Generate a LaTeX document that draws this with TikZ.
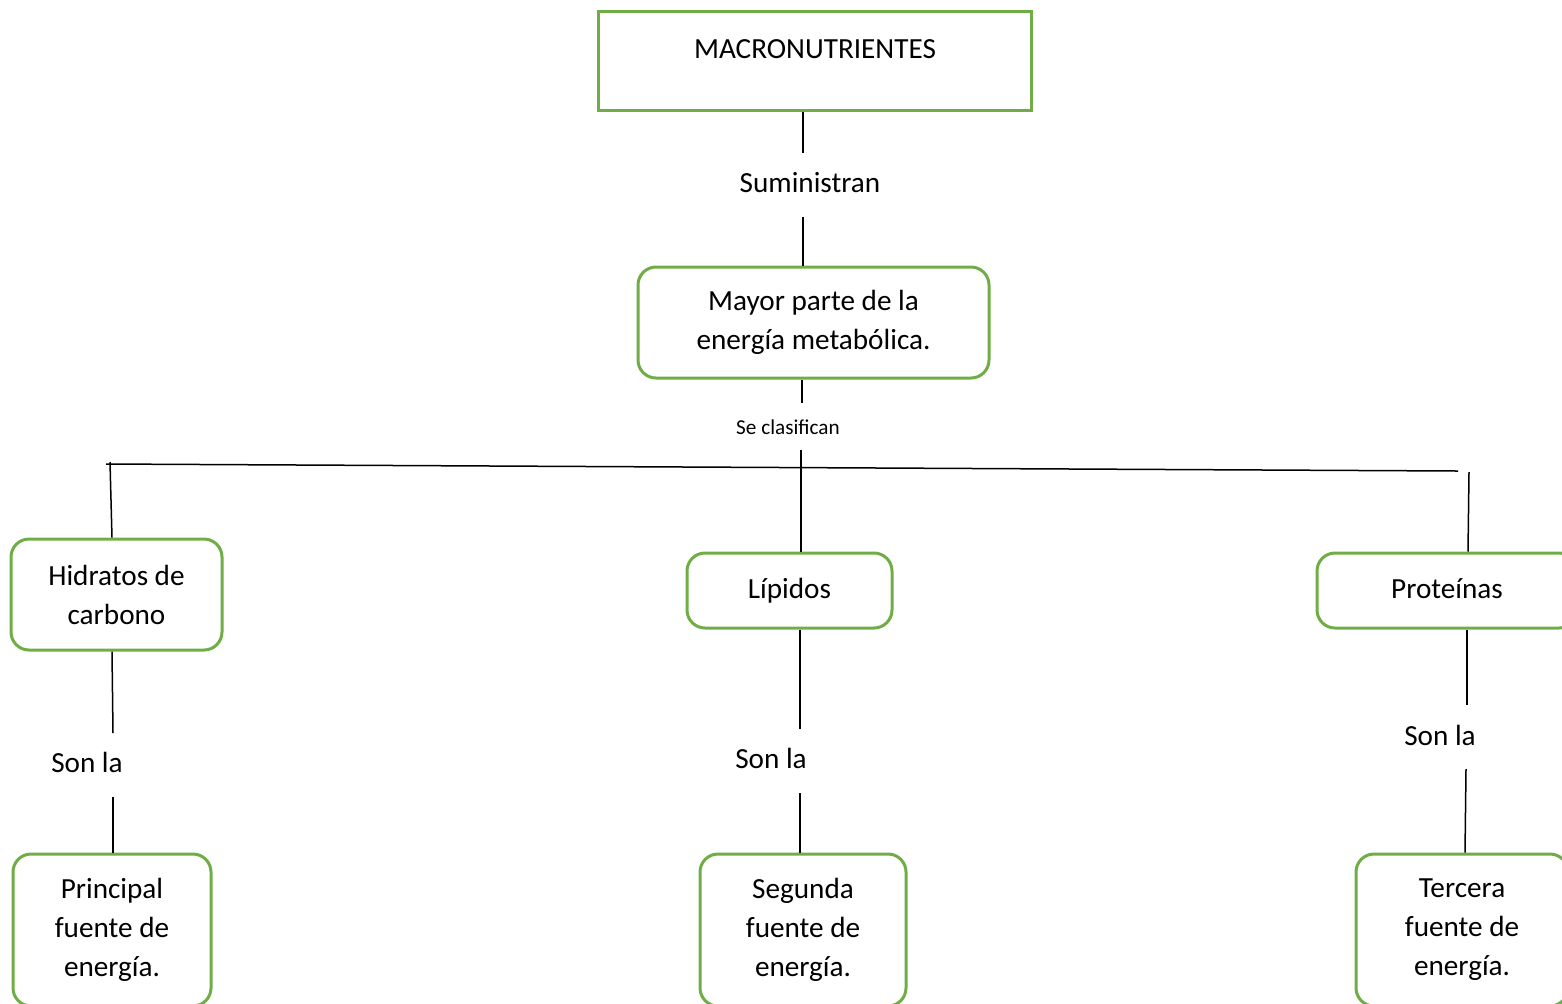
\documentclass[tikz,border=0pt]{standalone}
\usepackage{fontspec}
\setmainfont{Carlito}
\definecolor{grn}{HTML}{70AD47}
\begin{document}
\begin{tikzpicture}[x=0.5pt,y=-0.5pt,
  gbox/.style={draw=grn,line width=1.5pt,rounded corners=9pt,align=center,inner sep=0pt,font=\fontsize{14.6}{19.5}\selectfont},
  sqbox/.style={draw=grn,line width=1.5pt,inner sep=0pt},
  lab/.style={inner sep=0pt,font=\fontsize{14.6}{19.5}\selectfont},
  smlab/.style={inner sep=0pt,font=\fontsize{10.6}{13}\selectfont},
  conn/.style={line width=0.75pt}]
\useasboundingbox (0,0) rectangle (1562,1003);
\clip (0,0) rectangle (1562,1003);
% boxes
\node[sqbox,minimum width=216.5pt,minimum height=49.5pt] (top) at (814.5,60.5) {};
\node[lab] (toptext) at (815,49) {MACRONUTRIENTES};
\node[gbox,minimum width=175.5pt,minimum height=55.5pt] (mayor) at (813.5,322.5) {Mayor parte de la\\energía metabólica.};
\node[gbox,minimum width=105.5pt,minimum height=55.5pt] (hid) at (116.5,594.5) {Hidratos de\\carbono};
\node[gbox,minimum width=102.5pt,minimum height=37.5pt] (lip) at (789.5,590.5) {Lípidos};
\node[gbox,minimum width=130pt,minimum height=37.5pt] (pro) at (1447,590.5) {Proteínas\vphantom{p}};
\node[gbox,minimum width=99pt,minimum height=76pt] (pb1) at (112,930) {Principal\\fuente de\\energía.};
\node[gbox,minimum width=103pt,minimum height=76pt] (pb2) at (803,930) {Segunda\\fuente de\\energía.};
\node[gbox,minimum width=106pt,minimum height=76pt] (pb3) at (1462,930) {Tercera\\fuente de\\energía.};
% labels
\node[lab] (sum) at (810,183) {Suministran};
\node[smlab] (clas) at (788,427) {Se clasifican};
\node[lab] (son1) at (87,762) {Son la};
\node[lab] (son2) at (771,758) {Son la};
\node[lab] (son3) at (1440,735) {Son la};
% free ends
\coordinate (s1a) at (803,153);
\coordinate (s1b) at (803,217);
\coordinate (s2a) at (802,403);
\coordinate (s2b) at (801,450);
\coordinate (hl) at (106,464);
\coordinate (hr) at (1458,471);
\coordinate (vl) at (110,462);
\coordinate (vr) at (1469,472);
\coordinate (l1a) at (113,733);
\coordinate (l1b) at (113,797);
\coordinate (l2a) at (800,729);
\coordinate (l2b) at (800,793);
\coordinate (l3a) at (1467,705);
\coordinate (l3b) at (1466,769);
% connectors
\draw[conn] ([xshift=-5.75pt]top.south) -- (s1a);
\draw[conn] (s1b) -- ([xshift=-5.25pt]mayor.north);
\draw[conn] ([xshift=-5.75pt]mayor.south) -- (s2a);
\draw[conn] (s2b) -- ([xshift=5.75pt]lip.north);
\draw[conn] (hl) -- (hr);
\draw[conn] (vl) -- ([xshift=-2.25pt]hid.north);
\draw[conn] (vr) -- ([xshift=10.5pt]pro.north);
\draw[conn] ([xshift=-2.25pt]hid.south) -- (l1a);
\draw[conn] (l1b) -- ([xshift=0.5pt]pb1.north);
\draw[conn] ([xshift=5.25pt]lip.south) -- (l2a);
\draw[conn] (l2b) -- ([xshift=-1.5pt]pb2.north);
\draw[conn] ([xshift=10pt]pro.south) -- (l3a);
\draw[conn] (l3b) -- ([xshift=1.5pt]pb3.north);
\end{tikzpicture}
\end{document}
